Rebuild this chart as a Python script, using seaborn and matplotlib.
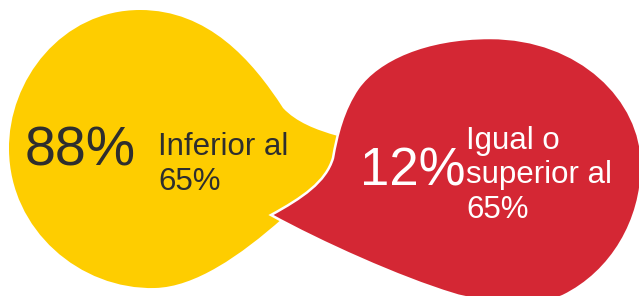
# Speech-bubble infographic: share of respondents below / at-or-above 65%
import seaborn as sns
import matplotlib.pyplot as plt
from matplotlib.path import Path
from matplotlib.patches import PathPatch

# --- data ---
percentages = [88, 12]
labels = ["Inferior al\n65%", "Igual o\nsuperior al\n65%"]
bubble_colors = ["#FECD00", "#D42734"]
text_colors = ["#2E2E2E", "#FFFFFF"]

# --- theme ---
sns.set_theme(style="white")
plt.rcParams["font.family"] = ["Liberation Sans", "DejaVu Sans"]

fig = plt.figure(figsize=(6.39, 2.96), dpi=100)
ax = fig.add_axes([0, 0, 1, 1])
ax.set_xlim(0, 639)
ax.set_ylim(296, 0)
ax.set_axis_off()

M, C, L, Z = Path.MOVETO, Path.CURVE4, Path.LINETO, Path.CLOSEPOLY

# yellow bubble, tail pointing right
yellow_pts = [
    (338, 136),
    (316, 130), (296, 122), (283, 108),
    (252, 60), (208, 10), (140, 10),
    (62, 10), (8, 80), (9, 150),
    (10, 230), (80, 290), (155, 288),
    (195, 287), (240, 256), (283, 218),
    (335, 185),
    (338, 136),
]
yellow_codes = [M, C, C, C, C, C, C, C, C, C, C, C, C, C, C, C, L, Z]

# red bubble, tail pointing left
red_pts = [
    (271, 215),
    (302, 198), (326, 182), (333, 158),
    (337, 135), (343, 110), (358, 88),
    (378, 60), (425, 38), (490, 38),
    (580, 38), (642, 100), (642, 165),
    (642, 220), (612, 272), (563, 296),
    (540, 306), (480, 303), (453, 294),
    (400, 278), (320, 242), (271, 215),
    (271, 215),
]
red_codes = [M, C, C, C, C, C, C, C, C, C, C, C, C, C, C, C, C, C, C, C, C, C, Z]

ax.add_patch(PathPatch(Path(yellow_pts, yellow_codes), facecolor=bubble_colors[0],
                       edgecolor="none", zorder=1))
ax.add_patch(PathPatch(Path(red_pts, red_codes), facecolor=bubble_colors[1],
                       edgecolor="white", linewidth=1.8, zorder=2))

# --- text ---
big_pos = [(25, 165), (360, 185)]
big_size = [40, 38]
label_pos = [(158, 190), (466, 218)]  # baseline of the last line

for i in range(len(percentages)):
    ax.text(big_pos[i][0], big_pos[i][1], f"{percentages[i]}%", fontsize=big_size[i],
            color=text_colors[i], ha="left", va="baseline", zorder=3)
    ax.text(label_pos[i][0], label_pos[i][1], labels[i], fontsize=22.5,
            color=text_colors[i], ha="left", va="baseline", linespacing=1.2, zorder=3)

fig.savefig("out.png", dpi=100)
